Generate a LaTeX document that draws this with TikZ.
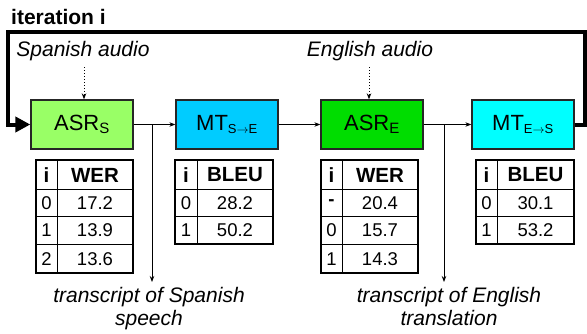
\documentclass[tikz,border=0pt]{standalone}
\usepackage{fontspec}
\setmainfont{Liberation Sans}
\usetikzlibrary{arrows.meta}
\definecolor{asrs}{HTML}{99FF66}
\definecolor{mtse}{HTML}{00CCFF}
\definecolor{asre}{HTML}{00DD00}
\definecolor{mtes}{HTML}{00FFFF}
\tikzset{
  module/.style={draw=black!85, line width=1.3pt, minimum width=102pt, minimum height=49pt, inner sep=0pt, font=\fontsize{22}{22}\selectfont},
  thinarrow/.style={line width=0.9pt, -{Stealth[length=6pt,width=4.5pt]}},
  dotarrow/.style={line width=1pt, dotted, -{Stealth[length=6pt,width=4.5pt]}},
  loopline/.style={line width=4pt},
  audiolabel/.style={font=\fontsize{21}{21}\selectfont\itshape, inner sep=0pt},
  translabel/.style={font=\fontsize{21}{23}\selectfont\itshape, align=center, inner sep=0pt},
  tabouter/.style={line width=1.8pt},
  tabinner/.style={line width=1pt},
  hdr/.style={font=\fontsize{20.5}{20.5}\selectfont\bfseries, inner sep=0pt},
  cell/.style={font=\fontsize{18.5}{18.5}\selectfont, inner sep=0pt}
}
\begin{document}
\begin{tikzpicture}[x=1pt,y=-1pt]
\useasboundingbox (0,0) rectangle (587,333);
% title
\node[anchor=west, font=\fontsize{21}{21}\selectfont\bfseries, inner sep=0pt] (title) at (11,17) {iteration i};
% modules
\node[module, fill=asrs] (asrs) at (82,124.5) {ASR\textsubscript{\fontsize{15}{15}\selectfont S}};
\node[module, fill=mtse] (mtse) at (227,124.5) {MT\textsubscript{\fontsize{13}{13}\selectfont S$\rightarrow$E}};
\node[module, fill=asre] (asre) at (372,124.5) {ASR\textsubscript{\fontsize{15}{15}\selectfont E}};
\node[module, fill=mtes] (mtes) at (523,124.5) {MT\textsubscript{\fontsize{13}{13}\selectfont E$\rightarrow$S}};
% audio labels
\node[audiolabel] (spa) at (83,51) {Spanish audio};
\node[audiolabel] (eng) at (370,51) {English audio};
\draw[dotarrow] (84,67) -- (asrs.north -| 84,0);
\draw[dotarrow] (369,67) -- (asre.north -| 369,0);
% connectors
\draw[thinarrow] (asrs.east) -- (mtse.west);
\draw[thinarrow] (mtse.east) -- (asre.west);
\draw[thinarrow] (asre.east) -- (mtes.west);
\coordinate (b1) at (152,124.5);
\coordinate (b2) at (444,124.5);
\node[translabel, anchor=north] (t1) at (149,287) {transcript of Spanish\\speech};
\node[translabel, anchor=north] (t2) at (449,287) {transcript of English\\translation};
\draw[thinarrow] (b1) -- (152,282);
\draw[thinarrow] (b2) -- (444,282);
% feedback loop
\coordinate (c1) at (585,124.5);
\coordinate (c2) at (585,32);
\coordinate (c3) at (8,32);
\coordinate (c4) at (8,124.5);
\draw[loopline, -{Triangle[length=15pt,width=15pt]}] (mtes.east) -- (c1) -- (c2) -- (c3) -- (c4) -- (asrs.west);
% WER table 1
\draw[tabinner] (36,189) -- (133,189) (36,216) -- (133,216) (36,244) -- (133,244) (57,160) -- (57,273);
\draw[tabouter] (36,160) rectangle (133,273);
\node[hdr] at (46.5,175) {i};
\node[hdr] at (95,175) {WER};
\node[cell] at (46.5,203) {0}; \node[cell] at (95,203) {17.2};
\node[cell] at (46.5,230) {1}; \node[cell] at (95,230) {13.9};
\node[cell] at (46.5,259) {2}; \node[cell] at (95,259) {13.6};
% BLEU table 1
\draw[tabinner] (175,189) -- (273,189) (175,216) -- (273,216) (197,160) -- (197,244);
\draw[tabouter] (175,160) rectangle (273,244);
\node[hdr] at (186,175) {i};
\node[hdr] at (235,175) {BLEU};
\node[cell] at (186,203) {0}; \node[cell] at (235,203) {28.2};
\node[cell] at (186,230) {1}; \node[cell] at (235,230) {50.2};
% WER table 2
\draw[tabinner] (321,189) -- (418,189) (321,216) -- (418,216) (321,244) -- (418,244) (342,160) -- (342,273);
\draw[tabouter] (321,160) rectangle (418,273);
\node[hdr] at (331.5,175) {i};
\node[hdr] at (380,175) {WER};
\node[cell, font=\fontsize{18.5}{18.5}\selectfont\bfseries] at (331.5,203) {-}; \node[cell] at (380,203) {20.4};
\node[cell] at (331.5,230) {0}; \node[cell] at (380,230) {15.7};
\node[cell] at (331.5,259) {1}; \node[cell] at (380,259) {14.3};
% BLEU table 2
\draw[tabinner] (476,189) -- (574,189) (476,216) -- (574,216) (497,160) -- (497,244);
\draw[tabouter] (476,160) rectangle (574,244);
\node[hdr] at (486.5,175) {i};
\node[hdr] at (535.5,175) {BLEU};
\node[cell] at (486.5,203) {0}; \node[cell] at (535.5,203) {30.1};
\node[cell] at (486.5,230) {1}; \node[cell] at (535.5,230) {53.2};
\end{tikzpicture}
\end{document}
